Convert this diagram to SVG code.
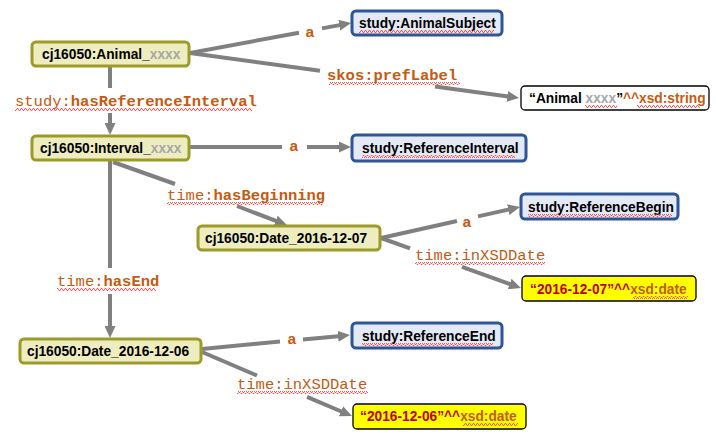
<svg xmlns="http://www.w3.org/2000/svg" width="716" height="435" viewBox="0 0 716 435">
<style>
.res rect{fill:#eeedc0;stroke:#9c9a28;stroke-width:3}
.cls rect{fill:#e3eaf6;stroke:#2f5597;stroke-width:3}
.lit rect{fill:#ffffff;stroke:#000000;stroke-width:1.3}
.ylit rect{fill:#ffff00;stroke:#000000;stroke-width:1.3}
.nt{font-family:"Liberation Sans",Arial,sans-serif;font-weight:bold;font-size:13.75px;fill:#000}
.gx{fill:#a6a6a6}
.ox{fill:#c55a11}
.rx{fill:#c00000}
.lbl{font-family:"Liberation Mono","Courier New",monospace;font-size:15.5px;fill:#c55a11}
.b{font-weight:bold}
.e line{stroke:#808080;stroke-width:4}
.arr{marker-end:url(#ah)}
g rect.wv{fill:url(#wave);stroke:none}
</style>
<defs>
<marker id="ah" markerUnits="userSpaceOnUse" markerWidth="13" markerHeight="11" refX="3" refY="5.5" orient="auto">
<path d="M0,0 L12,5.5 L0,11 z" fill="#808080"/>
</marker>
<pattern id="wave" patternUnits="userSpaceOnUse" width="4" height="3">
<path d="M0,2.5 L1,0.5 L2,0.5 L3,2.5 L4,2.5" fill="none" stroke="#ff3030" stroke-width="0.8"/>
</pattern>
</defs>

<g id="connectors" class="e">
<line x1="190" y1="53" x2="299" y2="32.7"/>
<line class="arr" x1="322" y1="28.4" x2="342.2" y2="24.6"/>
<line x1="190" y1="53" x2="320" y2="70.8"/>
<line class="arr" x1="435" y1="86.5" x2="510.1" y2="96.8"/>
<line x1="110" y1="66" x2="110" y2="88"/>
<line class="arr" x1="110" y1="113" x2="110" y2="126"/>
<line x1="190" y1="147" x2="282" y2="147"/>
<line class="arr" x1="307" y1="147" x2="342" y2="147"/>
<line x1="113" y1="162" x2="175" y2="184"/>
<line class="arr" x1="237" y1="206" x2="278.5" y2="221.9"/>
<line x1="110" y1="161" x2="110" y2="268"/>
<line class="arr" x1="110" y1="294" x2="110" y2="329"/>
<line x1="381" y1="238" x2="457" y2="221"/>
<line class="arr" x1="478" y1="216.4" x2="511.2" y2="209"/>
<line x1="381" y1="238" x2="410" y2="248.4"/>
<line class="arr" x1="462" y1="266.9" x2="512.5" y2="285"/>
<line x1="202" y1="349" x2="280" y2="341.5"/>
<line class="arr" x1="303" y1="339.5" x2="341" y2="335.9"/>
<line x1="202" y1="352" x2="257" y2="375.5"/>
<line class="arr" x1="307" y1="396.8" x2="343.7" y2="412.5"/>
</g>

<g id="edge-labels">
<text class="lbl b" x="310" y="37" text-anchor="middle">a</text>
<text class="lbl b" x="327" y="80">skos:prefLabel</text>
<rect class="wv" x="329" y="82" width="131" height="3"/>
<text class="lbl" x="15" y="106">study:<tspan class="b">hasReferenceInterval</tspan></text>
<rect class="wv" x="15" y="108" width="237" height="3"/>
<text class="lbl b" x="294" y="151" text-anchor="middle">a</text>
<text class="lbl" x="167" y="200">time:<tspan class="b">hasBeginning</tspan></text>
<rect class="wv" x="167" y="202" width="156" height="3"/>
<text class="lbl" x="57" y="286">time:<tspan class="b">hasEnd</tspan></text>
<rect class="wv" x="57" y="288" width="99" height="3"/>
<text class="lbl b" x="467" y="227" text-anchor="middle">a</text>
<text class="lbl" x="415" y="260">time:inXSDDate</text>
<rect class="wv" x="415" y="262" width="130" height="3"/>
<text class="lbl b" x="292" y="344" text-anchor="middle">a</text>
<text class="lbl" x="237" y="389">time:inXSDDate</text>
<rect class="wv" x="237" y="391" width="131" height="3"/>
</g>

<g id="animal" class="res">
<rect x="32" y="42" width="157" height="24" rx="4"/>
<text class="nt" x="42" y="59">cj16050:Animal_<tspan class="gx">xxxx</tspan></text>
</g>
<g id="animalSubject" class="cls">
<rect x="352" y="11" width="150" height="24" rx="4"/>
<text class="nt" x="359" y="28">study:AnimalSubject</text>
<rect class="wv" x="359" y="30" width="135" height="3"/>
</g>
<g id="animalLabel" class="lit">
<rect x="521" y="86" width="188" height="24" rx="4"/>
<text class="nt" x="529" y="103">“Animal <tspan class="gx">xxxx</tspan>”<tspan class="ox">^^xsd:string</tspan></text>
<rect class="wv" x="585" y="105" width="32" height="3"/>
<rect class="wv" x="637" y="105" width="63" height="3"/>
</g>
<g id="interval" class="res">
<rect x="32" y="136" width="157" height="24" rx="4"/>
<text class="nt" x="40" y="153">cj16050:Interval_<tspan class="gx">xxxx</tspan></text>
</g>
<g id="referenceInterval" class="cls">
<rect x="352" y="135" width="174" height="26" rx="4"/>
<text class="nt" x="362" y="153">study:ReferenceInterval</text>
<rect class="wv" x="362" y="155" width="153" height="3"/>
</g>
<g id="date07" class="res">
<rect x="198" y="226" width="182" height="24" rx="4"/>
<text class="nt" x="205" y="243">cj16050:Date_2016-12-07</text>
</g>
<g id="referenceBegin" class="cls">
<rect x="521" y="194" width="157" height="25" rx="4"/>
<text class="nt" x="528" y="212">study:ReferenceBegin</text>
<rect class="wv" x="528" y="214" width="144" height="3"/>
</g>
<g id="lit07" class="ylit">
<rect x="522" y="276" width="174" height="25" rx="4"/>
<text class="nt" x="530" y="294"><tspan class="rx">“2016-12-07”^^</tspan><tspan class="ox">xsd:date</tspan></text>
<rect class="wv" x="633" y="296" width="55" height="3"/>
</g>
<g id="date06" class="res">
<rect x="20" y="339" width="181" height="24" rx="4"/>
<text class="nt" x="27" y="356">cj16050:Date_2016-12-06</text>
</g>
<g id="referenceEnd" class="cls">
<rect x="352" y="323" width="150" height="25" rx="4"/>
<text class="nt" x="362" y="341">study:ReferenceEnd</text>
<rect class="wv" x="362" y="343" width="131" height="3"/>
</g>
<g id="lit06" class="ylit">
<rect x="353" y="404" width="173" height="25" rx="4"/>
<text class="nt" x="360" y="421"><tspan class="rx">“2016-12-06”^^</tspan><tspan class="ox">xsd:date</tspan></text>
<rect class="wv" x="463" y="423" width="55" height="3"/>
</g>
</svg>
